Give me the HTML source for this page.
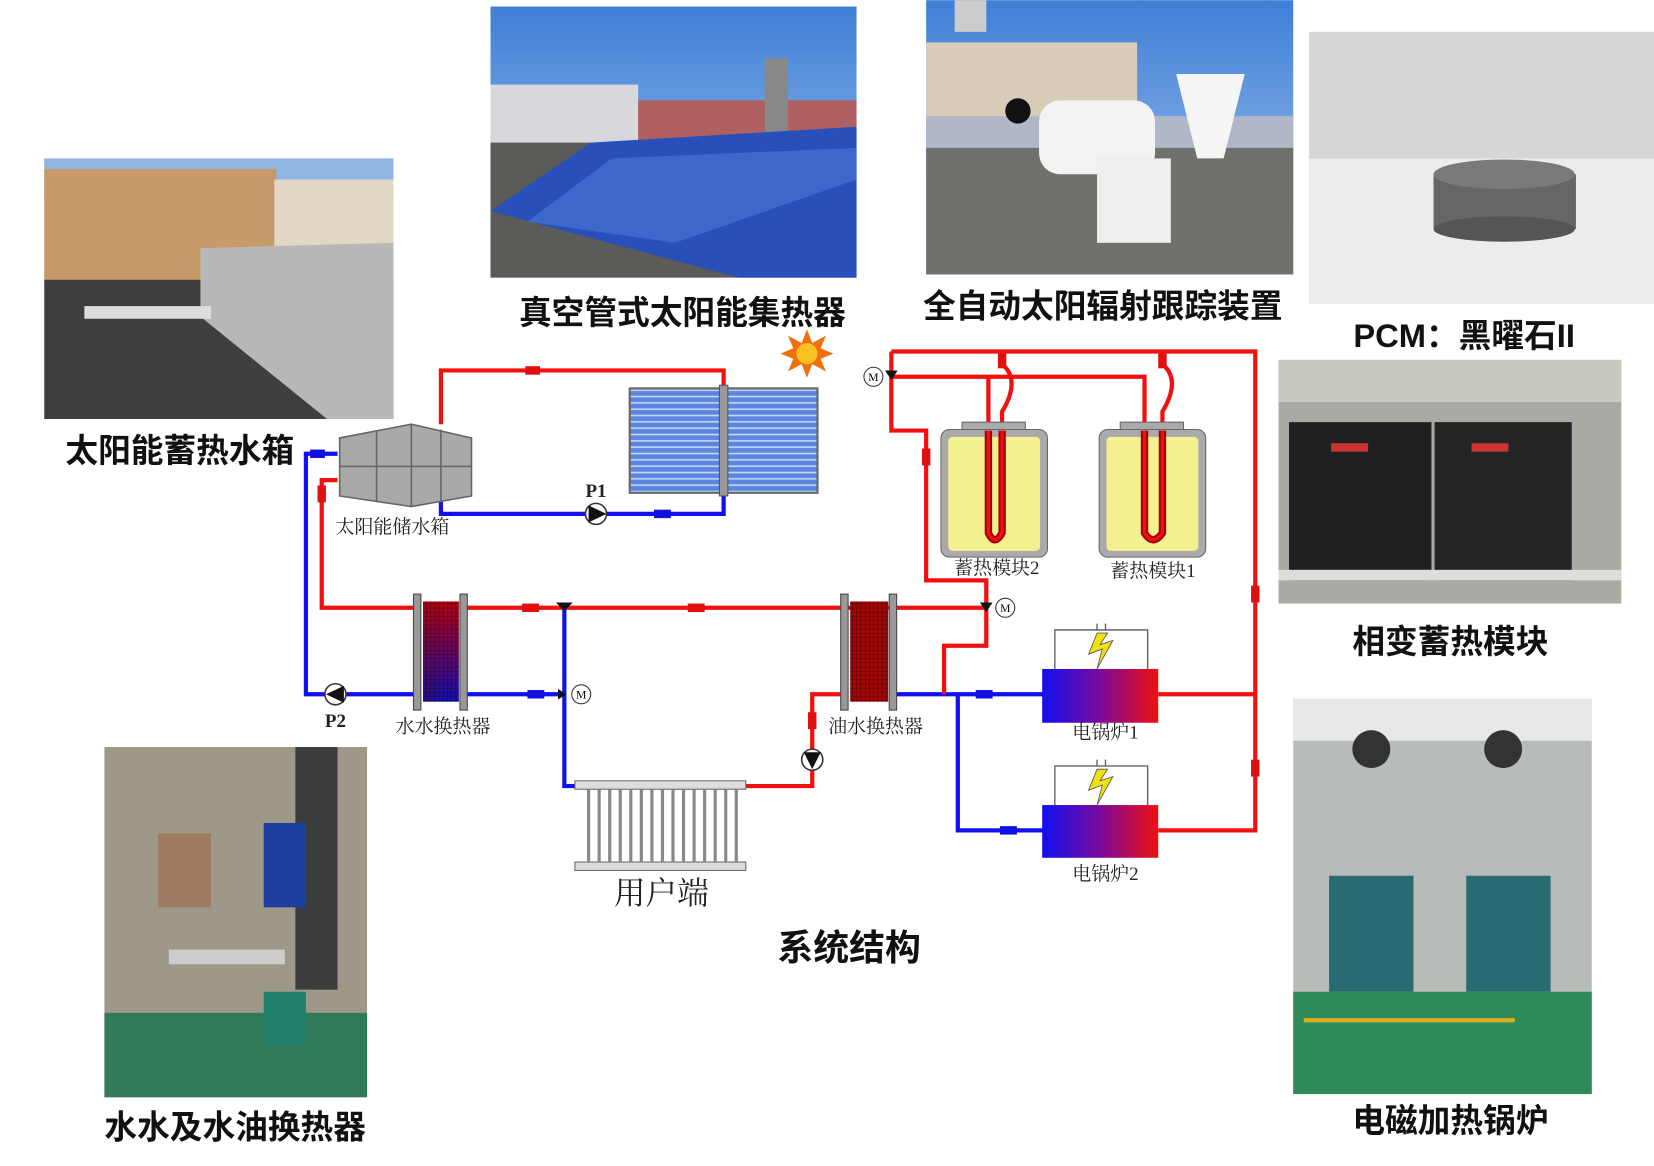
<!DOCTYPE html>
<html><head><meta charset="utf-8"><style>
html,body{margin:0;padding:0;background:#fff;}
svg{display:block}
.lb{font-family:"Liberation Sans","Noto Sans CJK SC",sans-serif;font-weight:bold;font-size:31px;fill:#111}
.sm{font-family:"Liberation Serif","Noto Serif CJK SC",serif;font-size:18px;fill:#222}
</style></head><body>
<svg width="1654" height="1166" viewBox="0 0 1568 1105" xmlns="http://www.w3.org/2000/svg">
<defs>
<linearGradient id="sky" x1="0" y1="0" x2="0" y2="1"><stop offset="0" stop-color="#3f7fd6"/><stop offset="1" stop-color="#a8c8ee"/></linearGradient>
<linearGradient id="blr" x1="0" y1="0" x2="1" y2="0"><stop offset="0" stop-color="#1010f0"/><stop offset="0.5" stop-color="#7a0a9a"/><stop offset="1" stop-color="#f01010"/></linearGradient>
<linearGradient id="hx1" x1="0" y1="0" x2="0" y2="1"><stop offset="0" stop-color="#b00010"/><stop offset="1" stop-color="#1010b0"/></linearGradient>
<pattern id="tubes" width="6" height="6" patternUnits="userSpaceOnUse"><rect width="6" height="6" fill="#5a86e0"/><rect y="3" width="6" height="1.5" fill="#c8d8f8"/></pattern>
<pattern id="grid" width="4" height="4" patternUnits="userSpaceOnUse"><rect width="4" height="4" fill="none"/><path d="M0 0H4M0 0V4" stroke="#300" stroke-width="0.7" fill="none"/></pattern>
</defs>

<g>
<rect x="42" y="150" width="331" height="247" fill="#c9b8a0"/>
<rect x="42" y="150" width="331" height="40" fill="#8fb6e4"/>
<rect x="42" y="160" width="220" height="110" fill="#c79a6a"/>
<rect x="260" y="170" width="113" height="90" fill="#e2d6c4"/>
<rect x="42" y="265" width="331" height="132" fill="#3f3f3f"/>
<polygon points="190,235 373,230 373,397 310,397 190,300" fill="#b8b8b8"/>
<rect x="80" y="290" width="120" height="12" fill="#ddd"/>
</g>
<g>
<rect x="465" y="6" width="347" height="257" fill="url(#sky)"/>
<rect x="465" y="80" width="140" height="60" fill="#d8d8dc"/>
<rect x="605" y="95" width="207" height="40" fill="#b06060"/>
<rect x="725" y="55" width="22" height="80" fill="#888"/>
<rect x="465" y="135" width="347" height="128" fill="#5b5b58"/>
<polygon points="465,200 560,135 812,120 812,263 700,263" fill="#2850b8"/>
<polygon points="500,210 580,150 812,140 812,170 640,230" fill="#4a78d8" opacity="0.6"/>
</g>
<g>
<rect x="878" y="0" width="348" height="260" fill="url(#sky)"/>
<rect x="878" y="40" width="200" height="80" fill="#d8ccb8"/>
<rect x="878" y="110" width="348" height="30" fill="#b0b8c8"/>
<rect x="878" y="140" width="348" height="120" fill="#70706c"/>
<rect x="985" y="95" width="110" height="70" rx="20" fill="#f2f2f2"/>
<path d="M1115 70 L1180 70 L1160 150 L1135 150Z" fill="#f5f5f5"/>
<rect x="1040" y="150" width="70" height="80" fill="#eee"/>
<circle cx="965" cy="105" r="12" fill="#111"/>
<rect x="905" y="0" width="30" height="30" fill="#ccc"/>
</g>
<g>
<rect x="1241" y="30" width="327" height="258" fill="#d6d6d6"/>
<rect x="1241" y="150" width="327" height="138" fill="#ececec"/>
<rect x="1359" y="165" width="135" height="52" fill="#666"/>
<ellipse cx="1426" cy="165" rx="67" ry="14" fill="#7a7a7a"/>
<ellipse cx="1426" cy="217" rx="67" ry="12" fill="#555"/>
</g>
<g>
<rect x="1212" y="341" width="325" height="231" fill="#a8aaa4"/>
<rect x="1212" y="341" width="325" height="40" fill="#c8c8c0"/>
<rect x="1222" y="400" width="135" height="150" fill="#1e2022"/>
<rect x="1360" y="400" width="130" height="150" fill="#222426"/>
<rect x="1212" y="540" width="325" height="10" fill="#ddd"/>
<rect x="1262" y="420" width="35" height="8" fill="#c33"/><rect x="1395" y="420" width="35" height="8" fill="#c33"/>
</g>
<g>
<rect x="1226" y="662" width="283" height="375" fill="#b8bcb8"/>
<rect x="1226" y="662" width="283" height="40" fill="#e8e8e8"/>
<rect x="1260" y="830" width="80" height="110" fill="#2a6a72"/>
<rect x="1390" y="830" width="80" height="110" fill="#2a6a72"/>
<rect x="1226" y="940" width="283" height="97" fill="#2f8a5a"/>
<circle cx="1300" cy="710" r="18" fill="#333"/><circle cx="1425" cy="710" r="18" fill="#333"/>
<rect x="1236" y="965" width="200" height="4" fill="#d8b020"/>
</g>
<g>
<rect x="99" y="708" width="249" height="332" fill="#9e9888"/>
<rect x="280" y="708" width="40" height="230" fill="#3a3c3e"/>
<rect x="150" y="790" width="50" height="70" fill="#a07a60"/>
<rect x="250" y="780" width="40" height="80" fill="#2040a0"/>
<rect x="99" y="960" width="249" height="80" fill="#307a5a"/>
<rect x="160" y="900" width="110" height="14" fill="#ccc"/>
<rect x="250" y="940" width="40" height="50" fill="#20806a"/>
</g>

<text class="lb" x="62" y="438">太阳能蓄热水箱</text>
<text class="lb" x="492" y="307">真空管式太阳能集热器</text>
<text class="lb" x="875" y="301">全自动太阳辐射跟踪装置</text>
<text class="lb" x="1283" y="329">PCM：黑曜石II</text>
<text class="lb" x="1282" y="619">相变蓄热模块</text>
<text class="lb" x="1282" y="1073">电磁加热锅炉</text>
<text class="lb" x="99" y="1079">水水及水油换热器</text>
<text class="lb" x="737" y="910" style="font-size:34px">系统结构</text>

<g fill="none" stroke-width="4" stroke-linejoin="miter">
<path d="M418 402 V351 H686 V370" stroke="#f01010"/>
<path d="M418 470 V487 H686 V467" stroke="#1010f0"/>
<path d="M320 430 H290 V658 H395" stroke="#1010f0"/>
<path d="M320 455 H305 V576 H393" stroke="#f01010"/>
<path d="M441 576 H935" stroke="#f01010"/>
<path d="M441 658 H535" stroke="#1010f0"/>
<path d="M535 576 V745 H545" stroke="#1010f0"/>
<path d="M707 745 H770 V658 H800" stroke="#f01010"/>
<path d="M848 658 H990" stroke="#1010f0"/>
<path d="M908 658 V787 H990" stroke="#1010f0"/>
<path d="M895 658 V612 H935 V576" stroke="#f01010"/>
<path d="M845 333 H1190 V787 H1098" stroke="#f01010"/>
<path d="M1190 658 H1098" stroke="#f01010"/>
<path d="M845 333 V408 H878 V550 H935 V576" stroke="#f01010"/>
<path d="M845 357 H1085 V408" stroke="#f01010"/>
<path d="M950 333 V345 Q968 360 950 390 V408" stroke="#f01010"/>
<path d="M937 357 V408" stroke="#f01010"/>
<path d="M1102 333 V345 Q1120 360 1102 390 V408" stroke="#f01010"/>
</g>
<g fill="#e01010"><rect x="498" y="347" width="14" height="8"/><rect x="495" y="572" width="16" height="8"/><rect x="652" y="572" width="16" height="8"/><rect x="301" y="460" width="8" height="16"/><rect x="766" y="675" width="8" height="16"/><rect x="874" y="425" width="8" height="16"/><rect x="946" y="335" width="8" height="14"/><rect x="1098" y="335" width="8" height="14"/><rect x="1186" y="555" width="8" height="16"/><rect x="1186" y="720" width="8" height="16"/></g>
<g fill="#1010e0"><rect x="620" y="483" width="16" height="8"/><rect x="294" y="426" width="14" height="8"/><rect x="500" y="654" width="16" height="8"/><rect x="925" y="654" width="16" height="8"/><rect x="948" y="783" width="16" height="8"/></g>

<rect x="597" y="368" width="178" height="99" fill="url(#tubes)" stroke="#666" stroke-width="2"/>
<rect x="682" y="365" width="8" height="105" fill="#999" stroke="#555"/>
<polygon points="765,312 770,325 783,318 778,330 790,335 778,340 783,352 770,345 765,358 760,345 747,352 752,340 740,335 752,330 747,318 760,325" fill="#f07010"/>
<circle cx="765" cy="335" r="10" fill="#f8c020"/>
<polygon points="322,415 390,402 447,415 447,470 390,480 322,470" fill="#a8aaa8" stroke="#666" stroke-width="1.5"/>
<path d="M357 408 V476 M390 402 V480 M418 407 V476 M322 442 H447" stroke="#666" stroke-width="1.5"/>
<g stroke="#333" stroke-width="1.5"><circle cx="565" cy="487" r="10" fill="#fff"/><circle cx="318" cy="658" r="10" fill="#fff"/><circle cx="770" cy="720" r="10" fill="#fff"/></g>
<polygon points="558,479 575,487 558,495" fill="#111"/>
<polygon points="326,650 309,658 326,666" fill="#111"/>
<polygon points="762,713 778,713 770,729" fill="#111"/>
<rect x="401" y="570" width="34" height="95" fill="url(#hx1)"/><rect x="401" y="570" width="34" height="95" fill="url(#grid)"/>
<rect x="806" y="570" width="36" height="95" fill="#a00808"/><rect x="806" y="570" width="36" height="95" fill="url(#grid)"/>
<g fill="#999" stroke="#444"><rect x="392" y="563" width="7" height="110"/><rect x="436" y="563" width="7" height="110"/><rect x="797" y="563" width="7" height="110"/><rect x="843" y="563" width="7" height="110"/></g>
<g fill="#111"><polygon points="527,571 543,571 535,579"/><polygon points="529,653 529,663 537,658"/><polygon points="839,351 851,351 845,360"/><polygon points="929,571 941,571 935,580"/></g>
<g fill="#fff" stroke="#333"><circle cx="551" cy="658" r="9"/><circle cx="828" cy="357" r="9"/><circle cx="953" cy="576" r="9"/></g>
<g font-family="Liberation Serif" font-size="11" text-anchor="middle"><text x="551" y="662">M</text><text x="828" y="361">M</text><text x="953" y="580">M</text></g>
<rect x="545" y="740" width="162" height="8" fill="#ddd" stroke="#666"/>
<rect x="545" y="817" width="162" height="8" fill="#ddd" stroke="#666"/>
<g stroke="#888" stroke-width="3"><path d="M558 748V817M568 748V817M578 748V817M588 748V817M598 748V817M608 748V817M618 748V817M628 748V817M638 748V817M648 748V817M658 748V817M668 748V817M678 748V817M688 748V817M698 748V817"/></g>
<text x="582" y="857" font-family="Liberation Serif,Noto Serif CJK SC,serif" font-size="30" fill="#222">用户端</text>
<g>
<rect x="912" y="400" width="60" height="8" fill="#aaa" stroke="#666"/>
<rect x="892" y="407" width="101" height="121" rx="8" fill="#aaa" stroke="#666"/>
<rect x="899" y="414" width="87" height="108" rx="4" fill="#f4f090"/>
<path d="M937 408 V505 Q943 518 950 505 V408" fill="none" stroke="#a00" stroke-width="7"/><path d="M937 408 V505 Q943 518 950 505 V408" fill="none" stroke="#f01010" stroke-width="3"/>
<rect x="1062" y="400" width="60" height="8" fill="#aaa" stroke="#666"/>
<rect x="1042" y="407" width="101" height="121" rx="8" fill="#aaa" stroke="#666"/>
<rect x="1049" y="414" width="87" height="108" rx="4" fill="#f4f090"/>
<path d="M1085 408 V505 Q1093 518 1102 505 V408" fill="none" stroke="#a00" stroke-width="7"/><path d="M1085 408 V505 Q1093 518 1102 505 V408" fill="none" stroke="#f01010" stroke-width="3"/>
</g>
<rect x="988" y="634" width="110" height="51" fill="url(#blr)"/>
<rect x="988" y="763" width="110" height="50" fill="url(#blr)"/>
<g fill="none" stroke="#555" stroke-width="1.2"><path d="M1000 634V597H1088V634M1040 597V591M1048 597V591"/><path d="M1000 763V726H1088V763M1040 726V720M1048 726V720"/></g>
<polygon points="1040,600 1032,620 1045,615 1040,634 1055,607 1043,611 1050,600" fill="#f0e010" stroke="#555" stroke-width="0.8"/>
<polygon points="1040,729 1032,749 1045,744 1040,763 1055,736 1043,740 1050,729" fill="#f0e010" stroke="#555" stroke-width="0.8"/>
<g class="sm" text-anchor="middle">
<text x="372" y="505">太阳能储水箱</text>
<text x="565" y="471" font-weight="bold">P1</text>
<text x="318" y="689" font-weight="bold">P2</text>
<text x="420" y="694">水水换热器</text>
<text x="830" y="694">油水换热器</text>
<text x="945" y="544">蓄热模块2</text>
<text x="1093" y="547">蓄热模块1</text>
<text x="1048" y="700">电锅炉1</text>
<text x="1048" y="834">电锅炉2</text>
</g>
</svg>
</body></html>
